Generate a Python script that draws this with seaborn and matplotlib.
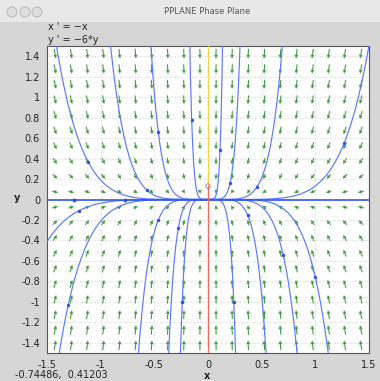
import numpy as np
import pandas as pd
import matplotlib

matplotlib.use('Agg')
import matplotlib.pyplot as plt
import seaborn as sns
from matplotlib.patches import Rectangle, Circle

# system: x' = -x, y' = -6*y
eq_lines = ["x ' = \u2212x", "y ' = \u22126*y"]

# initial points of the plotted solutions
traj_x0 = [-1.115, -0.571, -0.463, -0.152, 0.112, 0.205, 0.454, 1.270,
           -1.2, -1.302, -0.463, -0.277, -0.24, 0.24, 0.369, 0.70, 1.00]
traj_y0 = [0.364, 0.093, 0.657, 0.777, 0.484, 0.158, 0.119, 0.555,
           -0.108, -1.03, -0.2, -0.281, -1.0, -1.0, -0.151, -0.54, -0.76]

# solutions lying on the axes
xaxis_x0 = [-1.25, -0.773]
yaxis_y0 = 0.132

x_ticks = [-1.5, -1, -0.5, 0, 0.5, 1, 1.5]
x_ticklabels = ['-1.5', '-1', '-0.5', '0', '0.5', '1', '1.5']
y_ticks = [1.4, 1.2, 1, 0.8, 0.6, 0.4, 0.2, 0, -0.2, -0.4, -0.6, -0.8, -1, -1.2, -1.4]
y_ticklabels = ['1.4', '1.2', '1', '0.8', '0.6', '0.4', '0.2', '0',
                '-0.2', '-0.4', '-0.6', '-0.8', '-1', '-1.2', '-1.4']
cursor_text = '-0.74486,  0.41203'

sns.set_style('white')
plt.rcParams['font.family'] = ['DejaVu Sans']

W, H = 380, 381
fig = plt.figure(figsize=(W / 100, H / 100), dpi=100)
fig.patch.set_facecolor('#d6d6d6')

# window title bar
fig.patches.append(Rectangle((0, 1 - 22 / H), 1, 22 / H, transform=fig.transFigure,
                             facecolor='#e8e8e8', edgecolor='none', zorder=0))
for cx in [12, 25, 37]:
    fig.patches.append(Circle((cx / W, 1 - 12 / H), 5 / W, transform=fig.transFigure,
                              facecolor='#dedede', edgecolor='#b4b4b4', lw=0.6))
fig.text(207 / W, 1 - 11 / H, 'PPLANE Phase Plane', ha='center', va='center',
         fontsize=6, color='#555555')

fig.text(48 / W, 1 - 27 / H, eq_lines[0], ha='left', va='center', fontsize=7)
fig.text(48 / W, 1 - 40 / H, eq_lines[1], ha='left', va='center', fontsize=7)

ax = fig.add_axes([47 / W, 28 / H, 322 / W, 307 / H])
ax.set_facecolor('white')
ax.set_xlim(-1.5, 1.5)
ax.set_ylim(-1.5, 1.5)

# grid
for v in x_ticks:
    ax.axvline(v, color='#c8c8c8', lw=0.6, ls=(0, (1, 2)), zorder=0)
for v in y_ticks:
    ax.axhline(v, color='#c8c8c8', lw=0.6, ls=(0, (1, 2)), zorder=0)

# direction field, arrow length grows slowly with speed
g = -1.425 + 0.15 * np.arange(20)
X, Y = np.meshgrid(g, g)
U, V = -X, -6 * Y
N = np.hypot(U, V)
L = 0.095 * (N / N.max()) ** 0.3
ax.quiver(X, Y, U / N * L, V / N * L, color='#3a9a3a', angles='xy', scale_units='xy',
          scale=1, pivot='mid', width=0.0033, headwidth=3.8, headlength=3.8,
          headaxislength=3.2, zorder=2)

# solutions
t = np.linspace(-4, 10, 4000)
rows = []
for i, (x0, y0) in enumerate(zip(traj_x0, traj_y0)):
    xs = x0 * np.exp(-t)
    ys = y0 * np.exp(-6 * t)
    keep = (np.abs(xs) < 1.7) & (np.abs(ys) < 1.7)
    rows.append(pd.DataFrame({'x': xs[keep], 'y': ys[keep], 'id': i}))
traj = pd.concat(rows)
sns.lineplot(data=traj, x='x', y='y', units='id', estimator=None, sort=False,
             color='#5a78ff', lw=0.85, ax=ax, zorder=3)
sns.scatterplot(x=traj_x0, y=traj_y0, color='#3050e8', s=6, linewidth=0, ax=ax, zorder=4)

ax.plot([-1.5, 1.5], [0, 0], color='#2f55f5', lw=1.2, zorder=3)
sns.scatterplot(x=xaxis_x0, y=[0] * len(xaxis_x0), color='#3050e8', s=8, linewidth=0, ax=ax, zorder=4)
ax.plot([0, 0], [yaxis_y0, 1.5], color='#f2d44a', lw=1.0, zorder=3)
ax.plot([0, 0], [-1.5, yaxis_y0], color='#f06a5a', lw=1.0, zorder=3)
ax.scatter([0], [yaxis_y0], s=10, facecolor='none', edgecolor='#8080a0', lw=0.6, zorder=4)

ax.set_xticks(x_ticks)
ax.set_xticklabels(x_ticklabels)
ax.set_yticks(y_ticks)
ax.set_yticklabels(y_ticklabels)
ax.tick_params(direction='out', length=3, width=0.6, labelsize=7, pad=2, colors='#222222')
ax.set_xlabel('')
ax.set_ylabel('')
for s in ax.spines.values():
    s.set_color('#555555')
    s.set_linewidth(0.8)

fig.text(207 / W, 1 - 376 / H, 'x', ha='center', va='center', fontsize=7, fontweight='bold')
fig.text(17 / W, 1 - 198 / H, 'y', ha='center', va='center', fontsize=7, fontweight='bold')
fig.text(15 / W, 1 - 375 / H, cursor_text, ha='left', va='center', fontsize=7)

fig.savefig('out.png', dpi=100, facecolor=fig.get_facecolor())
